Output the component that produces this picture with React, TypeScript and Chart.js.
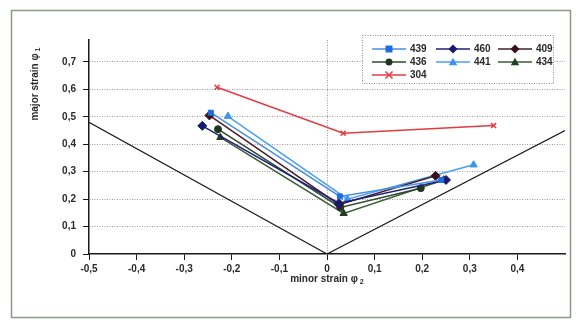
import React, { useEffect, useRef } from "react";
import { Chart, registerables } from "chart.js";
Chart.register(...registerables);

// Data (minor strain φ2 → x, major strain φ1 → y)
const seriesNames = ["439", "460", "409", "436", "441", "434", "304"];
const x439 = [-0.244, 0.027, 0.24];
const y439 = [0.515, 0.21, 0.27];
const x460 = [-0.262, 0.025, 0.25];
const y460 = [0.467, 0.185, 0.27];
const x409 = [-0.247, 0.025, 0.228];
const y409 = [0.505, 0.18, 0.285];
const x436 = [-0.229, 0.028, 0.197];
const y436 = [0.455, 0.17, 0.24];
const x441 = [-0.208, 0.043, 0.308];
const y441 = [0.502, 0.2, 0.325];
const x434 = [-0.224, 0.035, 0.245];
const y434 = [0.425, 0.148, 0.27];
const x304 = [-0.231, 0.034, 0.35];
const y304 = [0.608, 0.44, 0.468];
const xLimit = [-0.5, 0, 0.5];
const yLimit = [0.48, 0, 0.45];
const xTickValues = [-0.5, -0.4, -0.3, -0.2, -0.1, 0, 0.1, 0.2, 0.3, 0.4];
const yTickValues = [0, 0.1, 0.2, 0.3, 0.4, 0.5, 0.6, 0.7];

const xs = [x439, x460, x409, x436, x441, x434, x304];
const ys = [y439, y460, y409, y436, y441, y434, y304];
const lineColors = ["#4a8fe0", "#1c2278", "#4a1c2a", "#2f4a30", "#4aa0f2", "#3a5c3a", "#e23c40"];
const markerColors = ["#1f6ee0", "#16196e", "#3a1020", "#1f3620", "#3d93f0", "#203f20", "#e23c40"];
const markerStyles = ["rect", "rectRot", "rectRot", "circle", "triangle", "triangle", "crossRot"];
const markerSizes = [3.5, 4.5, 4.5, 3.5, 4.2, 4.2, 3.5];

const FONT = "'Liberation Sans', Arial, sans-serif";
const fmt = (v: number) => (Math.abs(v) < 1e-9 ? "0" : v.toFixed(1).replace(".", ","));

function drawMarker(ctx: CanvasRenderingContext2D, style: string, x: number, y: number, r: number, color: string) {
  ctx.save();
  ctx.fillStyle = color;
  ctx.strokeStyle = color;
  ctx.lineWidth = 1.5;
  ctx.beginPath();
  if (style === "rect") {
    ctx.rect(x - r, y - r, 2 * r, 2 * r);
    ctx.fill();
  } else if (style === "rectRot") {
    ctx.moveTo(x, y - r);
    ctx.lineTo(x + r, y);
    ctx.lineTo(x, y + r);
    ctx.lineTo(x - r, y);
    ctx.closePath();
    ctx.fill();
  } else if (style === "circle") {
    ctx.arc(x, y, r, 0, Math.PI * 2);
    ctx.fill();
  } else if (style === "triangle") {
    ctx.moveTo(x, y - r);
    ctx.lineTo(x + r, y + r * 0.8);
    ctx.lineTo(x - r, y + r * 0.8);
    ctx.closePath();
    ctx.fill();
  } else {
    ctx.moveTo(x - r, y - r);
    ctx.lineTo(x + r, y + r);
    ctx.moveTo(x + r, y - r);
    ctx.lineTo(x - r, y + r);
    ctx.stroke();
  }
  ctx.restore();
}

const decorPlugin = {
  id: "decor",
  afterDraw(chart: any) {
    const ctx: CanvasRenderingContext2D = chart.ctx;
    ctx.save();
    // outer frame
    ctx.strokeStyle = "#8a9a82";
    ctx.lineWidth = 1.5;
    ctx.strokeRect(11.5, 10.5, 559, 307);

    // axis titles
    ctx.fillStyle = "#2a2a2a";
    ctx.font = `bold 10px ${FONT}`;
    ctx.textBaseline = "middle";
    const xt = "minor strain φ";
    const w = ctx.measureText(xt).width;
    const cx = (chart.chartArea.left + chart.chartArea.right) / 2;
    ctx.textAlign = "left";
    ctx.fillText(xt, cx - (w + 6) / 2, 279);
    ctx.font = `bold 7px ${FONT}`;
    ctx.fillText("2", cx - (w + 6) / 2 + w + 2, 282);

    ctx.save();
    ctx.translate(35, 84);
    ctx.rotate(-Math.PI / 2);
    ctx.font = `bold 10px ${FONT}`;
    const yt = "major strain φ";
    const wy = ctx.measureText(yt).width;
    ctx.fillText(yt, -(wy + 6) / 2, 0);
    ctx.font = `bold 7px ${FONT}`;
    ctx.fillText("1", -(wy + 6) / 2 + wy + 2, 3);
    ctx.restore();

    // legend
    const bx = 362.5, by = 35.5, bw = 191, bh = 48;
    ctx.fillStyle = "#ffffff";
    ctx.fillRect(bx, by, bw, bh);
    ctx.setLineDash([1, 1.5]);
    ctx.strokeStyle = "#8a8a8a";
    ctx.lineWidth = 1;
    ctx.strokeRect(bx, by, bw, bh);
    ctx.setLineDash([]);
    const colX = [372, 436, 498];
    const rowY = [49, 62, 75];
    seriesNames.forEach((name, i) => {
      const col = i % 3;
      const row = Math.floor(i / 3);
      const lx = colX[col];
      const ly = rowY[row];
      ctx.strokeStyle = lineColors[i];
      ctx.lineWidth = 1.5;
      ctx.beginPath();
      ctx.moveTo(lx, ly);
      ctx.lineTo(lx + 34, ly);
      ctx.stroke();
      drawMarker(ctx, markerStyles[i], lx + 17, ly, markerSizes[i], markerColors[i]);
      ctx.fillStyle = "#2a2a2a";
      ctx.font = `bold 10px ${FONT}`;
      ctx.textAlign = "left";
      ctx.textBaseline = "middle";
      ctx.fillText(name, lx + 38, ly + 0.5);
    });
    ctx.restore();
  },
};

export default function App() {
  const ref = useRef<HTMLCanvasElement>(null);
  useEffect(() => {
    document.body.style.margin = "0";
    const datasets: any[] = seriesNames.map((name, i) => ({
      label: name,
      data: xs[i].map((x, j) => ({ x, y: ys[i][j] })),
      showLine: true,
      borderColor: lineColors[i],
      borderWidth: 1.5,
      backgroundColor: markerColors[i],
      pointBackgroundColor: markerColors[i],
      pointBorderColor: markerColors[i],
      pointBorderWidth: markerStyles[i] === "crossRot" ? 1.5 : 1,
      pointStyle: markerStyles[i],
      pointRadius: markerSizes[i],
      order: i,
    }));
    datasets.push({
      label: "limit",
      data: xLimit.map((x, j) => ({ x, y: yLimit[j] })),
      showLine: true,
      borderColor: "#1a1a1a",
      borderWidth: 1.2,
      pointRadius: 0,
      order: 20,
    });
    const chart = new Chart(ref.current!, {
      type: "scatter",
      data: { datasets },
      plugins: [decorPlugin],
      options: {
        animation: false,
        responsive: false,
        events: [],
        layout: { padding: { top: 40, right: 11, left: 0, bottom: 0 } },
        plugins: { legend: { display: false }, tooltip: { enabled: false } },
        scales: {
          x: {
            type: "linear",
            min: -0.5,
            max: 0.5,
            afterFit: (s: any) => { s.height = 69; },
            afterBuildTicks: (s: any) => { s.ticks = xTickValues.map((v) => ({ value: v })); },
            ticks: {
              callback: (v: any) => fmt(Number(v)),
              color: "#2a2a2a",
              font: { family: FONT, size: 10, weight: "bold" },
              padding: 3,
              maxRotation: 0,
              autoSkip: false,
            },
            grid: {
              color: (c: any) => (c.tick && Math.abs(c.tick.value) < 1e-9 ? "#9a9a9a" : "rgba(0,0,0,0)"),
              lineWidth: 1,
              tickColor: "#1a1a1a",
              tickLength: 6,
              tickBorderDash: [],
            },
            border: { display: true, color: "#1a1a1a", width: 1.5, dash: [1, 1.5] },
          },
          y: {
            type: "linear",
            min: 0,
            max: 0.78,
            afterFit: (s: any) => { s.width = 89; },
            afterBuildTicks: (s: any) => { s.ticks = yTickValues.map((v) => ({ value: v })); },
            ticks: {
              callback: (v: any) => fmt(Number(v)),
              color: "#2a2a2a",
              font: { family: FONT, size: 10, weight: "bold" },
              padding: 7,
              autoSkip: false,
            },
            grid: {
              color: (c: any) => (c.tick && Math.abs(c.tick.value) < 1e-9 ? "rgba(0,0,0,0)" : "#9a9a9a"),
              lineWidth: 1,
              tickColor: "#1a1a1a",
              tickLength: 6,
              tickBorderDash: [],
            },
            border: { display: true, color: "#1a1a1a", width: 1.5, dash: [1, 1.5] },
          },
        },
      } as any,
    });
    return () => chart.destroy();
  }, []);
  return (
    <div style={{ width: 576, height: 323, background: "#ffffff" }}>
      <canvas ref={ref} width={576} height={323} style={{ display: "block" }} />
    </div>
  );
}
